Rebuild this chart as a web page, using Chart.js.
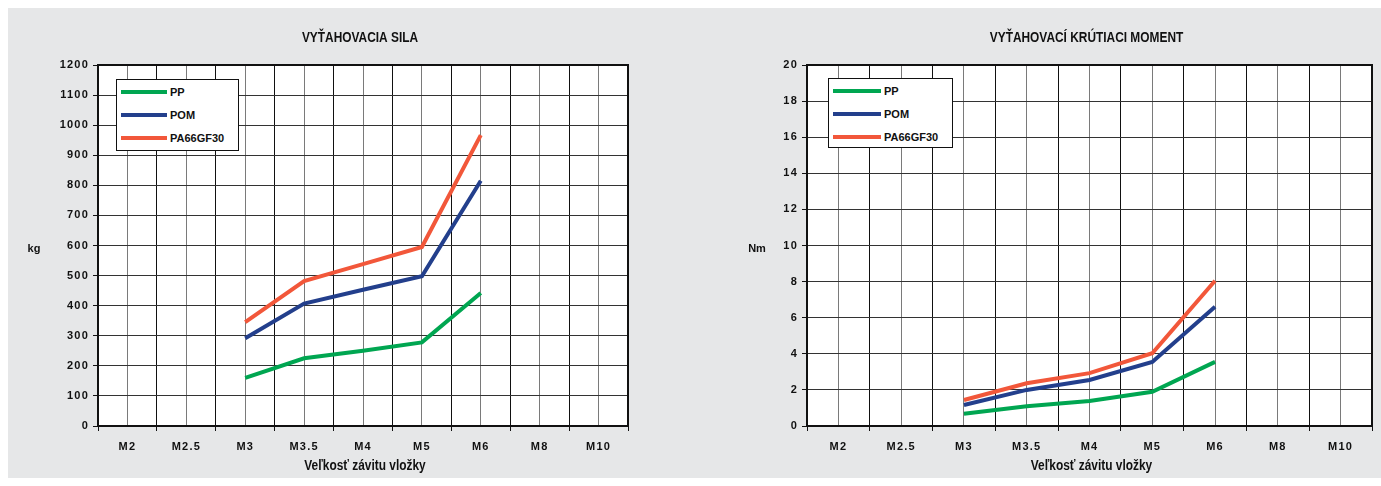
<!DOCTYPE html>
<html>
<head>
<meta charset="utf-8">
<script src="https://cdn.jsdelivr.net/npm/chart.js@4.4.0/dist/chart.umd.min.js"></script>
<style>
  body { margin: 0; width: 1381px; height: 486px; position: relative; overflow: hidden; background: #fff;
         font-family: "Liberation Sans", Arial, sans-serif; }
  #panel { position: absolute; left: 8px; top: 8px; width: 1373px; height: 470px; background: #e6e7e8; }
  .graf { position: absolute; top: 0; height: 486px; }
  .legenda { position: absolute; background: #fff; border: 1px solid #111; box-sizing: border-box; padding-top: 1px; }
  .legenda div { height: 23px; line-height: 23px; font-size: 11px; font-weight: bold; color: #111; white-space: nowrap; }
  .legenda span { display: inline-block; height: 4px; vertical-align: middle; margin: 0 3px 2px 4px; }
</style>
</head>
<body>
<div id="panel"></div>
<div class="graf" style="left:0; width:690px;"><canvas id="grafSila" width="690" height="486"></canvas></div>
<div class="graf" style="left:690px; width:691px;"><canvas id="grafMoment" width="691" height="486"></canvas></div>
<div class="legenda" id="legSila" style="left:116px; top:79px; width:123px; height:72px;"></div>
<div class="legenda" id="legMoment" style="left:828px; top:78px; width:125px; height:70px;"></div>

<script>
// ---------------------------------------------------------
// Dáta (odčítané z grafu)
// ---------------------------------------------------------
const kategorie = ["M2", "M2.5", "M3", "M3.5", "M4", "M5", "M6", "M8", "M10"];
const nazvy = ["PP", "POM", "PA66GF30"];
const farby = ["#00a651", "#233f8c", "#f2573a"];

// vyťahovacia sila [kg]
const silaPP = [null, null, 160, 225, 250, 278, 442, null, null];
const silaPOM = [null, null, 292, 407, 453, 498, 815, null, null];
const silaPA = [null, null, 345, 482, 538, 595, 967, null, null];

// vyťahovací krútiaci moment [Nm]
const momentPP = [null, null, 0.68, 1.1, 1.38, 1.9, 3.55, null, null];
const momentPOM = [null, null, 1.16, 2.0, 2.55, 3.55, 6.6, null, null];
const momentPA = [null, null, 1.44, 2.37, 2.93, 4.03, 8.05, null, null];

const yTickySila = [0, 1200, 100];
const yTickyMoment = [0, 20, 2];

const osX = "Veľkosť závitu vložky";
const FONT = "'Liberation Sans', Arial, sans-serif";

// ---------------------------------------------------------
// Rámček, biela plocha, nadpis a popisy osí
// ---------------------------------------------------------
function uzkyText(ctx, text, x, y) {
  // zúžené písmo ako Arial Narrow
  ctx.save();
  ctx.translate(x, y);
  ctx.scale(0.85, 1);
  ctx.font = "bold 14px " + FONT;
  ctx.fillText(text, 0, 0);
  ctx.restore();
}

const ramcek = {
  id: "ramcek",
  beforeDraw(chart) {
    const a = chart.chartArea;
    const ctx = chart.ctx;
    ctx.fillStyle = "#fff";
    ctx.fillRect(a.left, a.top, a.right - a.left, a.bottom - a.top);
    // popisky osí sú v originále trochu riedko
    ctx.letterSpacing = "1.2px";
  },
  afterDraw(chart, args, opts) {
    const a = chart.chartArea;
    const ctx = chart.ctx;
    const stred = (a.left + a.right) / 2;
    ctx.save();
    ctx.letterSpacing = "0px";
    ctx.strokeStyle = "#111";
    ctx.lineWidth = 2;
    ctx.strokeRect(a.left, a.top, a.right - a.left, a.bottom - a.top);
    ctx.fillStyle = "#111";
    ctx.textAlign = "center";
    ctx.textBaseline = "middle";
    ctx.font = "bold 11px " + FONT;
    ctx.fillText(opts.jednotka, opts.jednotkaX, (a.top + a.bottom) / 2 + 3);
    uzkyText(ctx, osX, stred + 2, 466);
    uzkyText(ctx, opts.titul, stred - 3, 38);
    ctx.restore();
  },
};

function body(hodnoty) {
  return hodnoty
    .map((v, i) => ({ x: i + 0.5, y: v }))
    .filter((p) => p.y !== null);
}

function vytvorGraf(id, serie, ticky, titul, jednotka, jednotkaX, sirkaY, pravyOkraj) {
  return new Chart(document.getElementById(id), {
    type: "line",
    data: {
      datasets: serie.map((s, i) => ({
        label: nazvy[i],
        data: body(s),
        borderColor: farby[i],
        borderWidth: 4,
        pointRadius: 0,
        tension: 0,
      })),
    },
    plugins: [ramcek],
    options: {
      responsive: false,
      animation: false,
      layout: { padding: { top: 65, left: 0, right: pravyOkraj, bottom: 10 } },
      plugins: {
        legend: { display: false },
        tooltip: { enabled: false },
        ramcek: { titul, jednotka, jednotkaX },
      },
      scales: {
        x: {
          type: "linear",
          min: 0,
          max: kategorie.length,
          afterFit: (s) => { s.height = 50; },
          afterBuildTicks: (s) => {
            const t = [];
            for (let v = 0; v <= kategorie.length; v += 0.5) t.push({ value: v });
            s.ticks = t;
          },
          ticks: {
            autoSkip: false,
            maxRotation: 0,
            padding: 9,
            color: "#111",
            font: { family: FONT, size: 11, weight: "bold" },
            callback: (v) => (v % 1 === 0.5 ? kategorie[Math.floor(v)] : ""),
          },
          grid: {
            color: (c) => (c.tick && c.tick.value % 1 === 0 ? "#111" : "#7a7a7a"),
            tickColor: (c) => (c.tick && c.tick.value % 1 === 0 ? "#111" : "rgba(0,0,0,0)"),
            tickLength: 5,
            lineWidth: 1,
          },
          border: { display: true, color: "#111", width: 2 },
        },
        y: {
          min: ticky[0],
          max: ticky[1],
          afterFit: (s) => { s.width = sirkaY; },
          ticks: {
            stepSize: ticky[2],
            padding: 4,
            color: "#111",
            font: { family: FONT, size: 11, weight: "bold" },
            callback: (v) => String(v),
          },
          grid: { color: "#333", tickColor: "#111", tickLength: 5, lineWidth: 1 },
          border: { display: true, color: "#111", width: 2 },
        },
      },
    },
  });
}

vytvorGraf("grafSila", [silaPP, silaPOM, silaPA], yTickySila,
  "VYŤAHOVACIA SILA", "kg", 34, 98, 62);
vytvorGraf("grafMoment", [momentPP, momentPOM, momentPA], yTickyMoment,
  "VYŤAHOVACÍ KRÚTIACI MOMENT", "Nm", 67, 117, 9);

// ---------------------------------------------------------
// Legenda (HTML)
// ---------------------------------------------------------
function vytvorLegendu(id, sirkaCiary) {
  const el = document.getElementById(id);
  nazvy.forEach((n, i) => {
    const d = document.createElement("div");
    d.innerHTML = `<span style="width:${sirkaCiary}px;background:${farby[i]}"></span>${n}`;
    el.appendChild(d);
  });
}
vytvorLegendu("legSila", 46);
vytvorLegendu("legMoment", 48);
</script>
</body>
</html>
